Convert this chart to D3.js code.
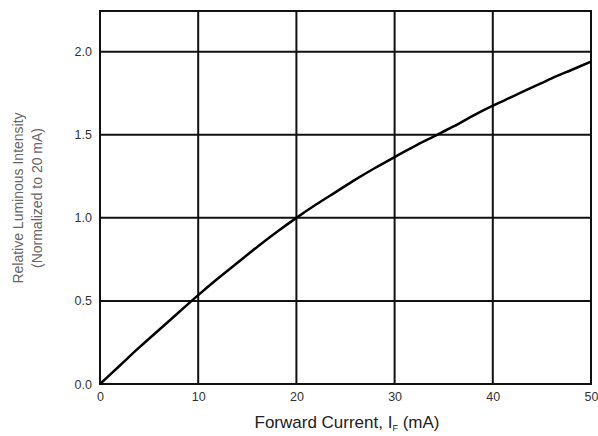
<!DOCTYPE html>
<html>
<head>
<meta charset="utf-8">
<script src="https://cdn.jsdelivr.net/npm/d3@7"></script>
<style>
  body { margin: 0; background: #fff; }
  svg text { font-family: "Liberation Sans", Arial, sans-serif; }
</style>
</head>
<body>
<svg width="598" height="436"></svg>
<script>
var width = 598;
var height = 436;
var margin = {top: 11, right: 7, bottom: 52, left: 100};

// forward current (mA) and relative luminous intensity
var currentValues = [0, 2, 4, 6, 8, 10, 12, 14, 16, 18, 20, 22, 24, 26, 28, 30, 32, 34, 36, 38, 40, 42, 44, 46, 48, 50];
var intensityValues = [0, 0.11, 0.22, 0.325, 0.43, 0.535, 0.635, 0.73, 0.825, 0.915, 1.0, 1.08, 1.155, 1.23, 1.30, 1.366, 1.43, 1.49, 1.55, 1.615, 1.675, 1.73, 1.785, 1.84, 1.89, 1.94];
var xTicks = [0, 10, 20, 30, 40, 50];
var yTicks = [0, 0.5, 1.0, 1.5, 2.0];

var svg = d3.select("svg");
var plotW = width - margin.left - margin.right;
var plotH = height - margin.top - margin.bottom;

var x = d3.scaleLinear().domain([0, 50]).range([0, plotW]);
var y = d3.scaleLinear().domain([0, 2.245]).range([plotH, 0]);

var g = svg.append("g")
    .attr("transform", "translate(" + margin.left + "," + margin.top + ")");

// grid lines
g.selectAll(".vgrid")
  .data(xTicks)
  .enter().append("line")
  .attr("x1", d => x(d)).attr("x2", d => x(d))
  .attr("y1", 0).attr("y2", plotH)
  .attr("stroke", "#111").attr("stroke-width", 2);

g.selectAll(".hgrid")
  .data(yTicks)
  .enter().append("line")
  .attr("x1", 0).attr("x2", plotW)
  .attr("y1", d => y(d)).attr("y2", d => y(d))
  .attr("stroke", "#111").attr("stroke-width", 2);

// frame
g.append("rect")
  .attr("width", plotW).attr("height", plotH)
  .attr("fill", "none").attr("stroke", "#111").attr("stroke-width", 2);

// axes (labels only)
var xAxis = d3.axisBottom(x).tickValues(xTicks).tickSize(0).tickPadding(8).tickFormat(d3.format("d"));
var yAxis = d3.axisLeft(y).tickValues(yTicks).tickSize(0).tickPadding(8).tickFormat(d3.format(".1f"));

g.append("g").attr("transform", "translate(0," + plotH + ")").call(xAxis)
  .call(a => a.select(".domain").remove())
  .selectAll("text").attr("font-size", 12.5).attr("fill", "#333").attr("font-family", "Liberation Sans, Arial, sans-serif");
g.append("g").call(yAxis)
  .call(a => a.select(".domain").remove())
  .selectAll("text").attr("font-size", 12.5).attr("fill", "#333").attr("font-family", "Liberation Sans, Arial, sans-serif");

// curve
var pts = currentValues.map((c, i) => [c, intensityValues[i]]);
var line = d3.line()
  .x(d => x(d[0]))
  .y(d => y(d[1]))
  .curve(d3.curveMonotoneX);

g.append("path")
  .datum(pts)
  .attr("d", line)
  .attr("fill", "none")
  .attr("stroke", "#000")
  .attr("stroke-width", 2.5);

// x axis title
var xt = svg.append("text")
  .attr("x", 347).attr("y", 428)
  .attr("text-anchor", "middle")
  .attr("font-size", 17)
  .attr("fill", "#222");
xt.append("tspan").text("Forward Current, I");
xt.append("tspan").attr("font-size", 9).attr("dy", 3).text("F");
xt.append("tspan").attr("dy", -3).text("  (mA)");

// y axis title
var yt = svg.append("text")
  .attr("transform", "translate(23,198) rotate(-90)")
  .attr("text-anchor", "middle")
  .attr("font-size", 14)
  .attr("fill", "#666");
yt.append("tspan").attr("x", 0).attr("dy", 0).text("Relative Luminous Intensity");
yt.append("tspan").attr("x", 0).attr("dy", 19).text("(Normalized to 20 mA)");
</script>
</body>
</html>
